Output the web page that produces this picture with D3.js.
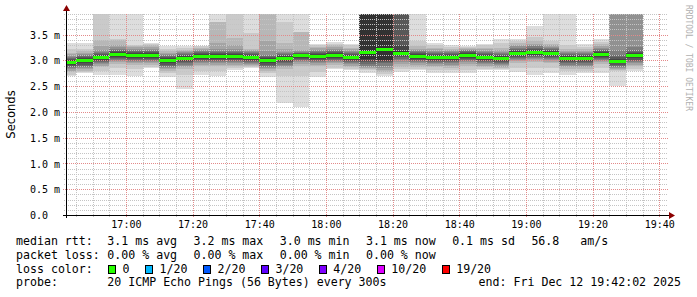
<!DOCTYPE html>
<html>
<head>
<meta charset="utf-8">
<script src="https://cdn.jsdelivr.net/npm/d3@7"></script>
<style>
  html, body { margin: 0; padding: 0; background: #fff; }
  svg { display: block; }
  text { font-family: "DejaVu Sans Mono", monospace; fill: #000; }
</style>
</head>
<body>
<div id="chart"></div>
<script>
// 5 minute rounds, labelled by the end of the round
const binEnds = [
  "16:45", "16:50", "16:55", "17:00", "17:05", "17:10", "17:15", "17:20", "17:25",
  "17:30", "17:35", "17:40", "17:45", "17:50", "17:55", "18:00", "18:05", "18:10",
  "18:15", "18:20", "18:25", "18:30", "18:35", "18:40", "18:45", "18:50", "18:55",
  "19:00", "19:05", "19:10", "19:15", "19:20", "19:25", "19:30", "19:35"
];

// median rtt per round (ms)
const medians = [
  2.97, 3.00, 3.07, 3.13, 3.11, 3.11, 3.00, 3.04, 3.09, 3.09, 3.09, 3.07,
  3.00, 3.04, 3.10, 3.09, 3.11, 3.07, 3.17, 3.22, 3.15, 3.08, 3.07, 3.06,
  3.10, 3.07, 3.05, 3.15, 3.17, 3.14, 3.04, 3.04, 3.13, 2.99, 3.10
];

// 20 sorted pings per round (ms), 4.5 = off the top of the graph
const pings = [
  [2.69,2.72,2.77,2.80,2.83,2.85,2.87,2.89,2.91,2.93,2.99,3.01,3.03,3.05,3.07,3.09,3.12,3.15,3.22,3.34],
  [2.76,2.78,2.80,2.83,2.86,2.88,2.90,2.92,2.94,2.96,3.02,3.04,3.06,3.08,3.10,3.12,3.15,3.18,3.22,3.33],
  [2.72,2.80,2.87,2.90,2.93,2.95,2.97,2.99,3.01,3.03,3.09,3.11,3.13,3.15,3.17,3.20,3.28,3.40,4.5,4.5],
  [2.72,2.85,2.93,2.96,2.99,3.01,3.03,3.05,3.07,3.09,3.15,3.17,3.19,3.21,3.23,3.26,3.30,3.40,3.41,4.5],
  [2.70,2.83,2.91,2.94,2.97,2.99,3.01,3.03,3.05,3.07,3.13,3.15,3.17,3.19,3.21,3.23,3.26,3.28,3.30,4.5],
  [2.85,2.87,2.91,2.94,2.97,2.99,3.01,3.03,3.05,3.07,3.13,3.15,3.17,3.19,3.21,3.23,3.26,3.29,3.31,3.34],
  [2.67,2.75,2.80,2.83,2.86,2.88,2.90,2.92,2.94,2.96,3.02,3.04,3.06,3.08,3.10,3.12,3.15,3.18,3.22,3.27],
  [2.44,2.72,2.84,2.87,2.90,2.92,2.94,2.96,2.98,3.00,3.06,3.08,3.10,3.12,3.14,3.16,3.19,3.21,3.24,3.27],
  [2.72,2.80,2.89,2.92,2.95,2.97,2.99,3.01,3.03,3.05,3.11,3.13,3.15,3.17,3.19,3.21,3.23,3.25,3.27,3.28],
  [2.69,2.80,2.89,2.92,2.95,2.97,2.99,3.01,3.03,3.05,3.11,3.13,3.15,3.17,3.19,3.22,3.33,3.74,3.75,4.5],
  [2.82,2.85,2.89,2.92,2.95,2.97,2.99,3.01,3.03,3.05,3.11,3.13,3.15,3.17,3.19,3.22,3.30,3.43,4.5,4.5],
  [2.85,2.87,2.89,2.91,2.93,2.95,2.97,2.99,3.01,3.03,3.09,3.11,3.13,3.15,3.17,3.19,3.21,3.22,3.53,4.5],
  [2.67,2.75,2.80,2.83,2.86,2.88,2.90,2.92,2.94,2.96,3.02,3.04,3.06,3.08,3.11,3.18,3.37,4.5,4.5,4.5],
  [2.18,2.69,2.84,2.87,2.90,2.92,2.94,2.96,2.98,3.00,3.06,3.08,3.10,3.12,3.14,3.17,3.22,3.33,3.74,4.5],
  [2.09,2.69,2.90,2.93,2.96,2.98,3.00,3.02,3.04,3.06,3.12,3.13,3.14,3.15,3.16,3.18,3.20,3.55,3.56,4.5],
  [2.67,2.78,2.89,2.92,2.95,2.97,2.99,3.01,3.03,3.05,3.11,3.13,3.15,3.17,3.19,3.21,3.24,3.26,3.29,3.32],
  [2.83,2.86,2.91,2.94,2.97,2.99,3.01,3.03,3.05,3.07,3.13,3.15,3.17,3.19,3.21,3.23,3.26,3.29,3.32,3.35],
  [2.82,2.84,2.87,2.90,2.93,2.95,2.97,2.99,3.01,3.03,3.09,3.11,3.13,3.15,3.17,3.19,3.22,3.25,3.29,3.32],
  [2.76,2.81,2.84,2.86,2.88,2.90,2.93,2.96,2.99,3.02,4.5,4.5,4.5,4.5,4.5,4.5,4.5,4.5,4.5,4.5],
  [2.70,2.74,2.78,2.82,2.86,2.90,2.94,2.97,2.99,3.01,4.5,4.5,4.5,4.5,4.5,4.5,4.5,4.5,4.5,4.5],
  [2.78,2.83,2.88,2.93,2.97,3.00,3.03,3.06,3.09,3.11,3.19,3.30,4.5,4.5,4.5,4.5,4.5,4.5,4.5,4.5],
  [2.82,2.84,2.88,2.91,2.94,2.96,2.98,3.00,3.02,3.04,3.10,3.12,3.14,3.16,3.18,3.20,3.23,3.28,3.37,4.5],
  [2.76,2.82,2.87,2.90,2.93,2.95,2.97,2.99,3.01,3.03,3.09,3.11,3.13,3.15,3.17,3.19,3.22,3.25,3.29,3.34],
  [2.76,2.81,2.86,2.89,2.92,2.94,2.96,2.98,3.00,3.02,3.08,3.10,3.12,3.14,3.16,3.18,3.21,3.23,3.26,3.29],
  [2.75,2.82,2.90,2.93,2.96,2.98,3.00,3.02,3.04,3.06,3.12,3.14,3.16,3.18,3.20,3.21,3.23,3.24,3.26,3.27],
  [2.82,2.84,2.87,2.90,2.93,2.95,2.97,2.99,3.01,3.03,3.09,3.11,3.13,3.15,3.17,3.19,3.22,3.25,3.29,3.32],
  [2.82,2.84,2.86,2.88,2.91,2.93,2.95,2.97,2.99,3.01,3.07,3.09,3.11,3.13,3.15,3.17,3.20,3.25,3.33,3.42],
  [2.78,2.86,2.95,2.98,3.01,3.03,3.05,3.07,3.09,3.11,3.17,3.19,3.21,3.23,3.25,3.27,3.30,3.33,3.37,3.42],
  [2.72,2.86,2.97,3.00,3.03,3.05,3.07,3.09,3.11,3.13,3.19,3.21,3.23,3.25,3.27,3.29,3.32,3.38,3.45,3.67],
  [2.76,2.86,2.94,2.97,3.00,3.02,3.04,3.06,3.08,3.10,3.16,3.18,3.20,3.22,3.24,3.26,3.29,3.32,3.37,4.5],
  [2.72,2.79,2.84,2.87,2.90,2.92,2.94,2.96,2.98,3.00,3.06,3.08,3.10,3.12,3.14,3.16,3.19,3.23,3.30,4.5],
  [2.76,2.80,2.84,2.87,2.90,2.92,2.94,2.96,2.98,3.00,3.06,3.08,3.10,3.12,3.14,3.16,3.19,3.22,3.26,3.32],
  [2.76,2.86,2.93,2.96,2.99,3.01,3.03,3.05,3.07,3.09,3.15,3.17,3.19,3.21,3.23,3.25,3.28,3.31,3.35,3.41],
  [2.50,2.80,2.82,2.84,2.86,2.88,2.90,2.92,2.94,2.96,3.01,3.03,3.06,3.10,3.20,4.5,4.5,4.5,4.5,4.5],
  [2.80,2.84,2.89,2.92,2.95,2.97,2.99,3.01,3.04,3.06,3.12,3.14,3.17,3.21,3.26,4.5,4.5,4.5,4.5,4.5]
];

const yTicks = [0, 0.5, 1.0, 1.5, 2.0, 2.5, 3.0, 3.5];

const rttLabel = "median rtt:";
const rttItems = ["3.1 ms avg", "3.2 ms max", "3.0 ms min", "3.1 ms now", "0.1 ms sd", "56.8   am/s"];
const lossLabel = "packet loss:";
const lossItems = ["0.00 % avg", "0.00 % max", "0.00 % min", "0.00 % now"];
const lossColorLabel = "loss color:";
const lossNames = ["0", "1/20", "2/20", "3/20", "4/20", "10/20", "19/20"];
const lossColors = ["#26ff00", "#00b8ff", "#0059ff", "#5e00ff", "#7e00ff", "#dd00ff", "#ff0000"];
const probeLabel = "probe:";
const probeText = "20 ICMP Echo Pings (56 Bytes) every 300s";
const endText = "end: Fri Dec 12 19:42:02 2025";

function drawSmokeping(containerId) {
  const W = 697, H = 297;
  const plot = { left: 66, right: 666, top: 14, bottom: 215 };

  const toDate = (s) => {
    const [h, m] = s.split(":").map(Number);
    return new Date(2025, 11, 12, h, m, 0);
  };
  const start = new Date(2025, 11, 12, 16, 42, 2);
  const end = new Date(2025, 11, 12, 19, 42, 2);

  const x = d3.scaleTime().domain([start, end]).range([plot.left, plot.right]);
  const y = d3.scaleLinear().domain([0, 3.9]).range([plot.bottom, plot.top]);

  const svg = d3
    .select(`#${containerId}`)
    .html("")
    .append("svg")
    .attr("width", W)
    .attr("height", H);

  svg.append("rect").attr("width", W).attr("height", H).attr("fill", "#fff");

  svg
    .append("clipPath")
    .attr("id", "plotclip")
    .append("rect")
    .attr("x", plot.left)
    .attr("y", plot.top)
    .attr("width", plot.right - plot.left)
    .attr("height", plot.bottom - plot.top);

  const bins = binEnds.map((s, i) => {
    const t1 = toDate(s);
    return { t0: d3.timeMinute.offset(t1, -5), t1, med: medians[i], p: pings[i] };
  });

  // smoke: layer k spans ping k .. ping (21-k), darker towards the middle
  const smoke = svg.append("g").attr("clip-path", "url(#plotclip)");
  bins.forEach((b) => {
    for (let k = 1; k <= 10; k++) {
      const lo = b.p[k - 1];
      const hi = b.p[20 - k];
      const g = Math.floor((190 / 10) * (10 - k)) + 50;
      smoke
        .append("rect")
        .attr("x", x(b.t0))
        .attr("width", x(b.t1) - x(b.t0))
        .attr("y", y(hi))
        .attr("height", Math.max(0, y(lo) - y(hi)))
        .attr("fill", d3.rgb(g, g, g))
        .attr("shape-rendering", "crispEdges");
    }
  });

  // grid
  const grid = svg.append("g").attr("shape-rendering", "crispEdges");
  const minorY = d3.range(1, 40).map((i) => i / 10).filter((v) => Math.round(v * 10) % 5 !== 0);
  grid
    .selectAll(".hminor")
    .data(minorY)
    .enter()
    .append("line")
    .attr("x1", plot.left - 2)
    .attr("x2", plot.right + 2)
    .attr("y1", (d) => Math.round(y(d)) + 0.5)
    .attr("y2", (d) => Math.round(y(d)) + 0.5)
    .attr("stroke", "#c4c4c4")
    .attr("stroke-dasharray", "1,1");

  const minorX = x.ticks(d3.timeMinute.every(5)).filter((d) => d.getMinutes() % 20 !== 0);
  grid
    .selectAll(".vminor")
    .data(minorX)
    .enter()
    .append("line")
    .attr("x1", (d) => Math.round(x(d)) + 0.5)
    .attr("x2", (d) => Math.round(x(d)) + 0.5)
    .attr("y1", plot.top)
    .attr("y2", plot.bottom + 2)
    .attr("stroke", "#c4c4c4")
    .attr("stroke-dasharray", "1,1");

  grid
    .selectAll(".hmajor")
    .data(yTicks.filter((v) => v > 0))
    .enter()
    .append("line")
    .attr("x1", plot.left - 3)
    .attr("x2", plot.right + 2)
    .attr("y1", (d) => Math.round(y(d)) + 0.5)
    .attr("y2", (d) => Math.round(y(d)) + 0.5)
    .attr("stroke", "#e38a8a")
    .attr("stroke-dasharray", "1,1");

  const majorX = x.ticks(d3.timeMinute.every(20));
  grid
    .selectAll(".vmajor")
    .data(majorX)
    .enter()
    .append("line")
    .attr("x1", (d) => Math.round(x(d)) + 0.5)
    .attr("x2", (d) => Math.round(x(d)) + 0.5)
    .attr("y1", plot.top)
    .attr("y2", plot.bottom + 3)
    .attr("stroke", "#e38a8a")
    .attr("stroke-dasharray", "1,1");

  // median line, coloured by loss (all rounds 0 loss)
  svg
    .append("g")
    .attr("clip-path", "url(#plotclip)")
    .selectAll("rect")
    .data(bins)
    .enter()
    .append("rect")
    .attr("x", (d) => x(d.t0))
    .attr("width", (d) => x(d.t1) - x(d.t0))
    .attr("y", (d) => Math.round(y(d.med)) - 1)
    .attr("height", 3)
    .attr("fill", lossColors[0])
    .attr("shape-rendering", "crispEdges");

  // axes
  const axisG = svg.append("g").attr("shape-rendering", "crispEdges");
  axisG
    .append("line")
    .attr("x1", plot.left - 3)
    .attr("x2", plot.right + 4)
    .attr("y1", plot.bottom + 0.5)
    .attr("y2", plot.bottom + 0.5)
    .attr("stroke", "#000");
  axisG
    .append("line")
    .attr("x1", plot.left + 0.5)
    .attr("x2", plot.left + 0.5)
    .attr("y1", plot.bottom + 3)
    .attr("y2", plot.top - 4)
    .attr("stroke", "#000");
  svg
    .append("path")
    .attr("d", `M${plot.right + 3},${plot.bottom - 3} L${plot.right + 9},${plot.bottom + 0.5} L${plot.right + 3},${plot.bottom + 4} Z`)
    .attr("fill", "#8b0000");
  svg
    .append("path")
    .attr("d", `M${plot.left - 3},${plot.top - 3} L${plot.left + 0.5},${plot.top - 9} L${plot.left + 4},${plot.top - 3} Z`)
    .attr("fill", "#8b0000");

  // tick labels
  const xAxis = svg
    .append("g")
    .attr("transform", `translate(0,${plot.bottom})`)
    .call(d3.axisBottom(x).ticks(d3.timeMinute.every(20)).tickSize(0).tickPadding(0).tickFormat(d3.timeFormat("%H:%M")));
  xAxis.select(".domain").remove();
  xAxis
    .selectAll("text")
    .attr("dy", null)
    .attr("y", 13.3)
    .style("font-family", '"DejaVu Sans Mono", monospace')
    .style("font-size", "10px")
    .attr("fill", "#000");

  const yAxis = svg
    .append("g")
    .attr("transform", `translate(${plot.left},0)`)
    .call(d3.axisLeft(y).tickValues(yTicks).tickSize(0).tickFormat((v) => (v === 0 ? "0.0" : `${v.toFixed(1)} m`)));
  yAxis.select(".domain").remove();
  yAxis
    .selectAll("text")
    .attr("dy", null)
    .attr("x", 30 - plot.left)
    .attr("y", 3.6)
    .attr("text-anchor", "start")
    .style("font-family", '"DejaVu Sans Mono", monospace')
    .style("font-size", "10px")
    .attr("fill", "#000");

  svg
    .append("text")
    .attr("transform", `translate(15,${(plot.top + plot.bottom) / 2}) rotate(-90)`)
    .attr("text-anchor", "middle")
    .style("font-family", '"DejaVu Sans", sans-serif')
    .style("font-size", "11.5px")
    .text("Seconds");

  svg
    .append("text")
    .attr("transform", "translate(686,5) rotate(90)")
    .style("font-family", '"DejaVu Sans Mono", monospace')
    .style("font-size", "8px")
    .style("fill", "#b0b0b0")
    .text("RRDTOOL / TOBI OETIKER");

  // legend
  const legend = svg
    .append("g")
    .style("font-family", '"DejaVu Sans Mono", monospace')
    .style("font-size", "11.6px");
  const rowY = [245, 258.7, 272.5, 286.2];
  const colX = 107.3;
  const gap = 16.4;

  function textRow(label, items, yy) {
    legend.append("text").attr("x", 16).attr("y", yy).style("white-space", "pre").text(label);
    let cx = colX;
    items.forEach((s) => {
      const t = legend.append("text").attr("x", cx).attr("y", yy).style("white-space", "pre").text(s);
      cx += t.node().getComputedTextLength() + gap;
    });
  }

  textRow(rttLabel, rttItems, rowY[0]);
  textRow(lossLabel, lossItems, rowY[1]);

  legend.append("text").attr("x", 16).attr("y", rowY[2]).text(lossColorLabel);
  let bx = 108.3;
  lossNames.forEach((name, i) => {
    legend
      .append("rect")
      .attr("x", bx + 0.5)
      .attr("y", rowY[2] - 7.5)
      .attr("width", 7)
      .attr("height", 8)
      .attr("fill", lossColors[i])
      .attr("stroke", "#000")
      .attr("shape-rendering", "crispEdges");
    const t = legend.append("text").attr("x", bx + 14.3).attr("y", rowY[2]).text(name);
    bx += 14.3 + t.node().getComputedTextLength() + 15.7;
  });

  legend.append("text").attr("x", 16).attr("y", rowY[3]).text(probeLabel);
  legend.append("text").attr("x", colX).attr("y", rowY[3]).text(probeText);
  legend.append("text").attr("x", 681).attr("y", rowY[3]).attr("text-anchor", "end").text(endText);
}

drawSmokeping("chart");
</script>
</body>
</html>
